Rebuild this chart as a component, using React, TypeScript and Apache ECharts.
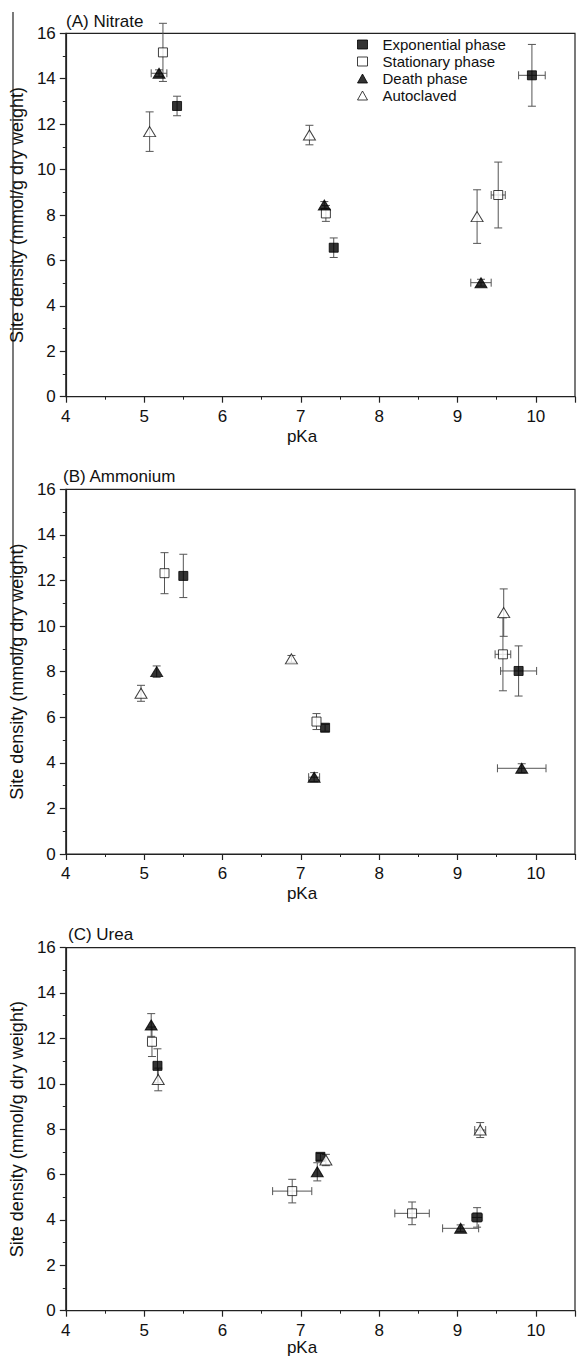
import React, { useEffect, useRef } from "react";
import * as echarts from "echarts";

const FONT = "'Liberation Sans', Arial, Helvetica, sans-serif";

// Each point: [pKa, site density, pKa error, density error]
const nitrateExponential = [[5.42, 12.8, 0, 0.43], [7.42, 6.56, 0, 0.43], [9.95, 14.15, 0.17, 1.36]];
const nitrateStationary = [[5.24, 15.16, 0, 1.28], [7.32, 8.07, 0, 0.35], [9.52, 8.88, 0.09, 1.45]];
const nitrateDeath = [[5.19, 14.24, 0.1, 0.15], [7.3, 8.44, 0, 0.15], [9.3, 5.02, 0.13, 0.15]];
const nitrateAutoclaved = [[5.07, 11.67, 0, 0.87], [7.11, 11.52, 0, 0.43], [9.25, 7.93, 0, 1.18]];

const ammoniumExponential = [[5.5, 12.2, 0, 0.95], [7.31, 5.54, 0, 0.15], [9.78, 8.03, 0.23, 1.1]];
const ammoniumStationary = [[5.26, 12.32, 0, 0.9], [7.2, 5.81, 0, 0.35], [9.58, 8.76, 0.1, 1.6]];
const ammoniumDeath = [[5.16, 8.0, 0, 0.25], [7.17, 3.37, 0.07, 0.2], [9.82, 3.76, 0.31, 0.2]];
const ammoniumAutoclaved = [[4.96, 7.05, 0, 0.35], [6.88, 8.56, 0, 0.15], [9.59, 10.59, 0, 1.04]];

const ureaExponential = [[5.17, 10.79, 0, 0.75], [7.25, 6.78, 0, 0.15], [9.25, 4.11, 0.07, 0.43]];
const ureaStationary = [[5.1, 11.85, 0, 0.65], [6.89, 5.27, 0.25, 0.52], [8.42, 4.29, 0.22, 0.5]];
const ureaDeath = [[5.09, 12.59, 0, 0.5], [7.21, 6.12, 0, 0.4], [9.04, 3.63, 0.23, 0.15]];
const ureaAutoclaved = [[5.18, 10.19, 0, 0.5], [7.32, 6.64, 0, 0.25], [9.29, 7.96, 0.07, 0.33]];

const phaseNames = ["Exponential phase", "Stationary phase", "Death phase", "Autoclaved"];
const panelTitles = ["(A) Nitrate", "(B) Ammonium", "(C) Urea"];
const xTicks = [4, 5, 6, 7, 8, 9, 10];
const yTicks = [0, 2, 4, 6, 8, 10, 12, 14, 16];
const xLabel = "pKa";
const yLabel = "Site density (mmol/g dry weight)";

const panels = [
  [nitrateExponential, nitrateStationary, nitrateDeath, nitrateAutoclaved],
  [ammoniumExponential, ammoniumStationary, ammoniumDeath, ammoniumAutoclaved],
  [ureaExponential, ureaStationary, ureaDeath, ureaAutoclaved],
];

const grids = [
  { top: 33.3, height: 363.4 },
  { top: 489.3, height: 364.7 },
  { top: 947.6, height: 363.1 },
];
const GRID_LEFT = 63.4;
const GRID_WIDTH = 513.6;

const symbolStyles = [
  { symbol: "rect", symbolSize: 9, itemStyle: { color: "#000", borderColor: "#000", borderWidth: 1 } },
  { symbol: "rect", symbolSize: 9, itemStyle: { color: "#fff", borderColor: "#111", borderWidth: 1 } },
  { symbol: "triangle", symbolSize: [12, 10], itemStyle: { color: "#000", borderColor: "#000", borderWidth: 1 } },
  { symbol: "triangle", symbolSize: [12, 10], itemStyle: { color: "#fff", borderColor: "#111", borderWidth: 1 } },
];

function errorBarRender(params: any, api: any) {
  const x = api.value(0);
  const y = api.value(1);
  const ex = api.value(2);
  const ey = api.value(3);
  const c = api.coord([x, y]);
  const cap = 4;
  const style = { stroke: "#555", lineWidth: 1 };
  const children: any[] = [];
  if (ey > 0) {
    const t = api.coord([x, y + ey]);
    const b = api.coord([x, y - ey]);
    children.push({ type: "line", shape: { x1: c[0], y1: t[1], x2: c[0], y2: b[1] }, style });
    children.push({ type: "line", shape: { x1: c[0] - cap, y1: t[1], x2: c[0] + cap, y2: t[1] }, style });
    children.push({ type: "line", shape: { x1: c[0] - cap, y1: b[1], x2: c[0] + cap, y2: b[1] }, style });
  }
  if (ex > 0) {
    const l = api.coord([x - ex, y]);
    const r = api.coord([x + ex, y]);
    children.push({ type: "line", shape: { x1: l[0], y1: c[1], x2: r[0], y2: c[1] }, style });
    children.push({ type: "line", shape: { x1: l[0], y1: c[1] - cap, x2: l[0], y2: c[1] + cap }, style });
    children.push({ type: "line", shape: { x1: r[0], y1: c[1] - cap, x2: r[0], y2: c[1] + cap }, style });
  }
  return { type: "group", children };
}

export default function App() {
  const ref = useRef<HTMLDivElement>(null);
  useEffect(() => {
    if (!ref.current) return;
    const chart = echarts.init(ref.current, null, { renderer: "svg" });
    const axisCommon = {
      axisLine: { show: true, onZero: false, lineStyle: { color: "#222", width: 1.2 } },
      axisTick: { show: true, inside: false, length: 6, lineStyle: { color: "#222", width: 1.2 } },
      minorTick: { show: true, splitNumber: 2, length: 3, lineStyle: { color: "#222", width: 1 } },
      splitLine: { show: false },
      axisLabel: { color: "#111", fontSize: 17, fontFamily: FONT },
    };
    const xAxes = grids.map((_, i) => ({
      type: "value",
      gridIndex: i,
      min: xTicks[0],
      max: 10.5,
      interval: 1,
      ...axisCommon,
      axisLabel: {
        ...axisCommon.axisLabel,
        margin: 11,
        formatter: (v: number) => (xTicks.includes(v) ? String(v) : ""),
      },
    }));
    const yAxes = grids.map((_, i) => ({
      type: "value",
      gridIndex: i,
      min: yTicks[0],
      max: yTicks[yTicks.length - 1],
      interval: 2,
      ...axisCommon,
      axisLabel: { ...axisCommon.axisLabel, margin: 10 },
      name: yLabel,
      nameLocation: "middle",
      nameRotate: 90,
      nameGap: 35,
      nameTextStyle: { fontSize: 18, color: "#111", fontFamily: FONT },
    }));
    const series: any[] = [];
    panels.forEach((groups, gi) => {
      groups.forEach((data, si) => {
        series.push({
          type: "scatter",
          name: phaseNames[si],
          xAxisIndex: gi,
          yAxisIndex: gi,
          data: data.map((d) => [d[0], d[1]]),
          ...symbolStyles[si],
          z: 3,
        });
      });
      groups.forEach((data, si) => {
        series.push({
          type: "custom",
          name: phaseNames[si] + " error",
          xAxisIndex: gi,
          yAxisIndex: gi,
          data,
          encode: { x: 0, y: 1 },
          renderItem: errorBarRender,
          z: 1,
          silent: true,
        });
      });
    });
    const titleGraphics = panelTitles.map((t, i) => ({
      type: "text",
      left: [66, 63, 68][i],
      top: [13, 468, 926][i],
      style: { text: t, fontSize: 17, fontFamily: FONT, fill: "#111" },
    }));
    const xNameGraphics = grids.map((g, i) => ({
      type: "text",
      x: 302,
      y: [436, 893, 1347][i],
      style: {
        text: xLabel,
        fontSize: 17,
        fontFamily: FONT,
        fill: "#111",
        textAlign: "center",
        textVerticalAlign: "middle",
      },
    }));
    chart.setOption({
      animation: false,
      backgroundColor: "#fff",
      grid: grids.map((g) => ({
        left: GRID_LEFT,
        width: GRID_WIDTH,
        top: g.top,
        height: g.height,
        show: true,
        borderColor: "#222",
        borderWidth: 1.2,
        backgroundColor: "transparent",
      })),
      xAxis: xAxes,
      yAxis: yAxes,
      legend: {
        data: phaseNames.map((n, i) => ({
          name: n,
          icon: symbolStyles[i].symbol,
          itemStyle: symbolStyles[i].itemStyle,
        })),
        orient: "vertical",
        left: 352,
        top: 32,
        itemWidth: 10,
        itemHeight: 9,
        itemGap: 2,
        selectedMode: false,
        textStyle: { fontSize: 15, fontFamily: FONT, color: "#111", lineHeight: 13, padding: [0, 0, 0, 10] },
      },
      graphic: [
        ...titleGraphics,
        ...xNameGraphics,
        {
          type: "line",
          shape: { x1: 13, y1: 12, x2: 13, y2: 665 },
          style: { stroke: "#222", lineWidth: 1.2 },
        },
      ],
      series,
    });
    return () => chart.dispose();
  }, []);
  return (
    <div
      ref={ref}
      style={{ position: "absolute", left: 0, top: 0, width: 578, height: 1356, background: "#fff" }}
    />
  );
}
